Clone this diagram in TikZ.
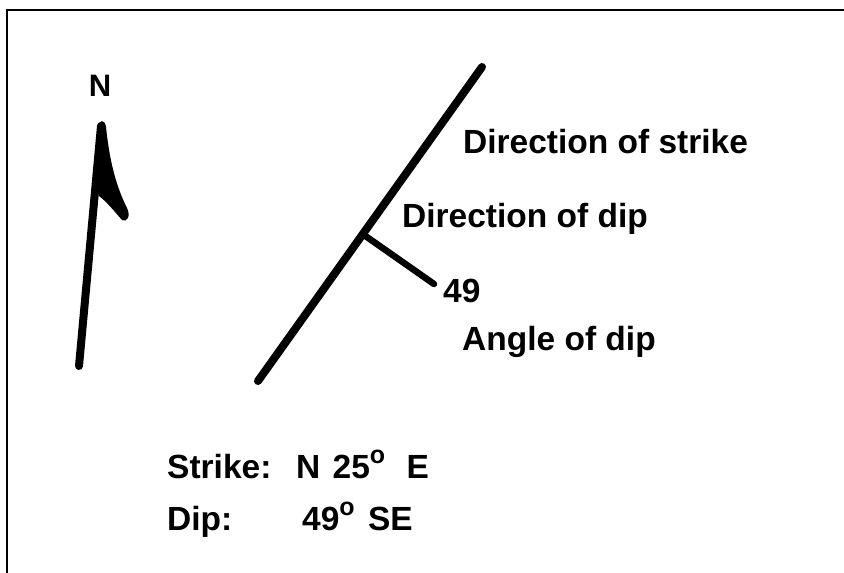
\documentclass[tikz,border=0pt]{standalone}
\usepackage{fontspec}
\setmainfont{Liberation Sans}
\begin{document}
\begin{tikzpicture}[x=1pt,y=-1pt,
  lbl/.style={anchor=base west,inner sep=0pt,font=\fontsize{33.5}{38}\selectfont\bfseries},
  thick line/.style={line width=8pt,line cap=round},
  dipline/.style={line width=6.5pt,line cap=round}]
\useasboundingbox (0,0) rectangle (844,573);
% frame (top and left only)
\draw[line width=2.6pt] (7,573) -- (7,10) -- (844,10);
% north arrow
\coordinate (nb) at (79,366);
\coordinate (nt) at (101,126);
\draw[thick line] (nb) -- (nt);
\fill (97,128) .. controls (99,119) and (105,119) .. (106,127)
  .. controls (109,155) and (114,182) .. (127,208)
  .. controls (131,216) and (127,223) .. (122,220)
  .. controls (114,211) and (107,202) .. (99,196) -- cycle;
\node[anchor=base,inner sep=0pt,font=\fontsize{31}{34}\selectfont\bfseries] (N) at (100,96) {N};
% strike line
\coordinate (s1) at (258,381);
\coordinate (s2) at (482,67);
\draw[thick line] (s1) -- (s2);
% dip line
\coordinate (j) at (364,235);
\coordinate (d2) at (434,284);
\draw[dipline] (j) -- (d2);
% labels
\node[lbl] (tstrike) at (463,153) {Direction of strike};
\node[lbl] (tdip) at (402,227) {Direction of dip};
\node[lbl] (t49) at (443,302) {49};
\node[lbl] (tangle) at (462,350) {Angle of dip};
\node[lbl] (ks) at (167,478) {Strike:};
\node[lbl] (vs) at (296,478) {N\hspace{3pt} 25\raisebox{0.42em}{\fontsize{25}{25}\selectfont o}\hspace{12pt} E};
\node[lbl] (kd) at (167,530) {Dip:};
\node[lbl] (vd) at (302,530) {49\raisebox{0.42em}{\fontsize{25}{25}\selectfont o}\hspace{4pt} SE};
\end{tikzpicture}
\end{document}
